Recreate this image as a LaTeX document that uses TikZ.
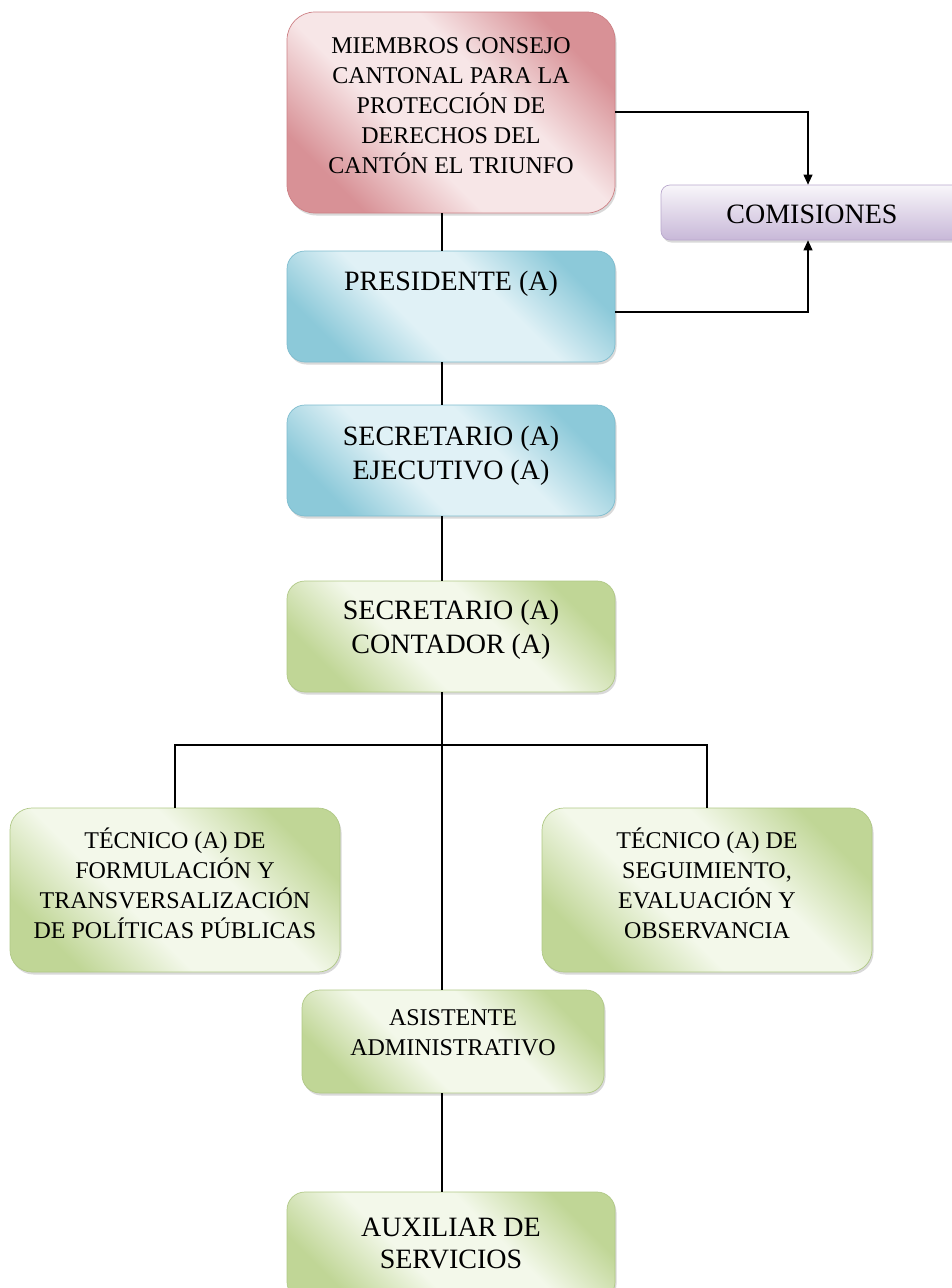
\documentclass[tikz,border=0pt]{standalone}
\usepackage{fontspec}
\setmainfont{Liberation Serif}
\usetikzlibrary{shadows,arrows.meta}
\definecolor{rdark}{RGB}{216,145,150}
\definecolor{rlight}{RGB}{247,230,231}
\definecolor{rborder}{RGB}{205,128,133}
\definecolor{bdark}{RGB}{140,201,217}
\definecolor{blight}{RGB}{224,241,246}
\definecolor{bborder}{RGB}{125,188,206}
\definecolor{gdark}{RGB}{192,214,150}
\definecolor{glight}{RGB}{243,248,234}
\definecolor{gborder}{RGB}{176,200,134}
\definecolor{pdark}{RGB}{200,184,216}
\definecolor{plight}{RGB}{248,246,250}
\definecolor{pborder}{RGB}{185,168,205}
\pgfdeclareverticalshading{rsh}{100bp}{color(0bp)=(rdark); color(25bp)=(rdark); color(41bp)=(rlight); color(59bp)=(rlight); color(75bp)=(rdark); color(100bp)=(rdark)}
\pgfdeclareverticalshading{bsh}{100bp}{color(0bp)=(bdark); color(25bp)=(bdark); color(41bp)=(blight); color(59bp)=(blight); color(75bp)=(bdark); color(100bp)=(bdark)}
\pgfdeclareverticalshading{gsh}{100bp}{color(0bp)=(gdark); color(25bp)=(gdark); color(41bp)=(glight); color(59bp)=(glight); color(75bp)=(gdark); color(100bp)=(gdark)}
\begin{document}
\begin{tikzpicture}[x=1pt,y=-1pt,
  box/.style={draw=#1border, line width=0.7pt, rounded corners=18pt,
    shading=#1sh, shading angle=-45,
    drop shadow={opacity=0.3, shadow xshift=1.5pt, shadow yshift=-2.5pt},
    inner sep=0pt},
  txtA/.style={align=center, inner sep=0pt, font=\fontsize{24}{30}\selectfont},
  txtB/.style={align=center, inner sep=0pt, font=\fontsize{28}{34}\selectfont},
  conn/.style={line width=1.1pt, black},
  arr/.style={conn, -{Triangle[length=10pt,width=9pt]}}]
\useasboundingbox (0,0) rectangle (952,1288);
\clip (0,0) rectangle (952,1288);

% boxes
\node[box=r, rounded corners=28pt, minimum width=328pt, minimum height=201pt] (top) at (451,112.5) {};
\node[draw=pborder, line width=0.7pt, rounded corners=9pt, top color=plight, bottom color=pdark,
  drop shadow={opacity=0.3, shadow xshift=1.5pt, shadow yshift=-2.5pt},
  inner sep=0pt, minimum width=314pt, minimum height=55pt] (com) at (818,212.5) {};
\node[box=b, minimum width=328pt, minimum height=111pt] (pres) at (451,306.5) {};
\node[box=b, minimum width=328pt, minimum height=111pt] (ejec) at (451,460.5) {};
\node[box=g, minimum width=328pt, minimum height=111pt] (cont) at (451,636.5) {};
\node[box=g, rounded corners=22pt, minimum width=330pt, minimum height=164pt] (tec1) at (175,890) {};
\node[box=g, rounded corners=22pt, minimum width=330pt, minimum height=164pt] (tec2) at (707,890) {};
\node[box=g, minimum width=302pt, minimum height=103pt] (asis) at (453,1041.5) {};
\node[box=g, minimum width=328pt, minimum height=108pt] (aux) at (451,1246) {};

% texts
\node[txtA] (ttop) at (451,106) {MIEMBROS CONSEJO\\CANTONAL PARA LA\\PROTECCIÓN DE\\DERECHOS DEL\\CANTÓN EL TRIUNFO};
\node[txtB] (tcom) at (812,214) {COMISIONES};
\node[txtB] (tpres) at (451,284) {PRESIDENTE (A)};
\node[txtB] (tejec) at (451,456) {SECRETARIO (A)\\EJECUTIVO (A)};
\node[txtB] (tcont) at (451,630) {SECRETARIO (A)\\CONTADOR (A)};
\node[txtA] (ttec1) at (175,883) {TÉCNICO (A) DE\\FORMULACIÓN Y\\TRANSVERSALIZACIÓN\\DE POLÍTICAS PÚBLICAS};
\node[txtA] (ttec2) at (707,883) {TÉCNICO (A) DE\\SEGUIMIENTO,\\EVALUACIÓN Y\\OBSERVANCIA};
\node[txtA] (tasis) at (453,1033) {ASISTENTE\\ADMINISTRATIVO};
\node[txtB, font=\fontsize{28}{32}\selectfont] (taux) at (451,1243) {AUXILIAR DE\\SERVICIOS};

% connectors
\coordinate (spine) at (442,0);
\coordinate (branch) at (442,745);
\coordinate (comx) at (808,0);
\draw[conn] (top.south -| spine) -- (pres.north -| spine);
\draw[conn] (pres.south -| spine) -- (ejec.north -| spine);
\draw[conn] (ejec.south -| spine) -- (cont.north -| spine);
\draw[conn] (cont.south -| spine) -- (asis.north -| spine);
\draw[conn] (asis.south -| spine) -- (aux.north -| spine);
\draw[conn] (tec1.north) -- (tec1.north |- branch) -- (tec2.north |- branch) -- (tec2.north);
\draw[arr] ([yshift=0.5pt]top.east) -| (com.north -| comx);
\draw[arr] ([yshift=-5.5pt]pres.east) -| (com.south -| comx);
\end{tikzpicture}
\end{document}
